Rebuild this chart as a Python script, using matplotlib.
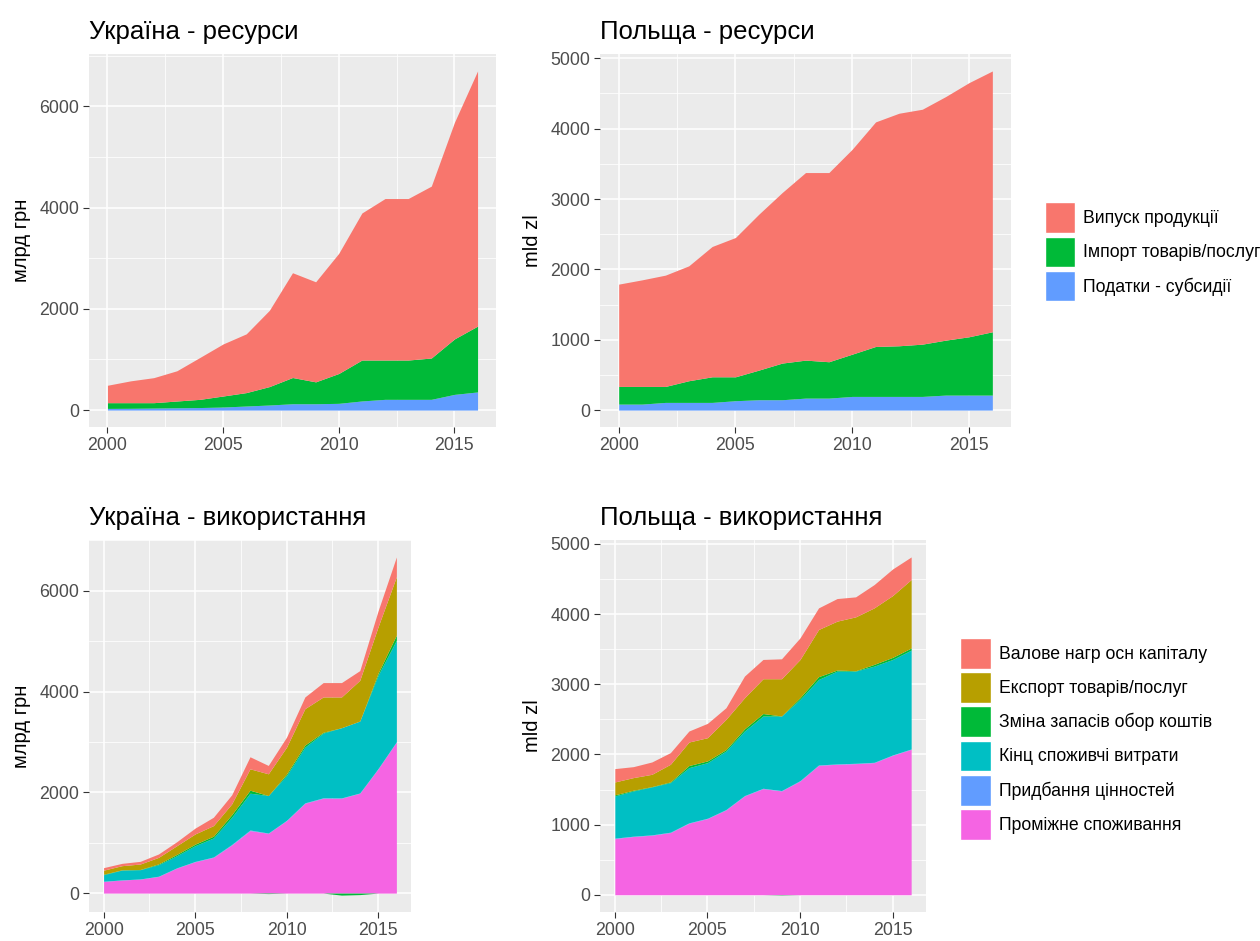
import numpy as np
import matplotlib
matplotlib.use("Agg")
import matplotlib.pyplot as plt
from matplotlib.patches import Patch
from matplotlib.ticker import MultipleLocator

plt.rcParams['font.family'] = ['Liberation Sans', 'DejaVu Sans']

years = list(range(2000, 2017))

# Resources (3 categories)
res_labels = ["Випуск продукції", "Імпорт товарів/послуг", "Податки - субсидії"]
res_colors = ["#F8766D", "#00BA38", "#619CFF"]

ua_output = [344, 431, 494, 597, 828, 1028, 1160, 1506, 2069, 1976, 2373, 2904, 3189, 3189, 3394, 4277, 5038]
ua_import = [113, 111, 106, 134, 162, 218, 265, 364, 518, 432, 590, 808, 776, 776, 816, 1095, 1300]
ua_taxes = [33, 35, 40, 45, 50, 60, 80, 100, 125, 125, 133, 180, 212, 212, 212, 310, 358]

pl_output = [1454, 1515, 1582, 1633, 1852, 1980, 2216, 2424, 2666, 2689, 2913, 3192, 3305, 3339, 3462, 3612, 3707]
pl_import = [251, 251, 227, 308, 364, 340, 421, 521, 540, 517, 601, 710, 720, 743, 781, 829, 900]
pl_taxes = [85, 85, 109, 109, 109, 133, 147, 147, 170, 170, 194, 194, 194, 194, 213, 213, 213]

# Uses (6 categories)
use_labels = ["Валове нагр осн капіталу", "Експорт товарів/послуг", "Зміна запасів обор коштів",
              "Кінц споживчі витрати", "Придбання цінностей", "Проміжне споживання"]
use_colors = ["#F8766D", "#B79F00", "#00BA38", "#00BFC4", "#619CFF", "#F564E3"]

ua_gfcf = [50, 46, 53, 67, 79, 116, 166, 180, 239, 166, 199, 232, 285, 285, 192, 316, 391]
ua_export = [80, 82, 108, 130, 173, 203, 210, 215, 424, 431, 533, 723, 701, 610, 809, 921, 1160]
ua_inventory = [10, 5, 5, 15, 25, 30, 35, 50, 60, -10, 30, 40, 15, -40, -30, 40, 100]
ua_final = [130, 195, 183, 229, 241, 312, 377, 540, 730, 744, 889, 1106, 1285, 1393, 1427, 1852, 2016]
ua_valuables = [3, 3, 3, 4, 5, 6, 8, 10, 12, 5, 6, 8, 8, 6, 5, 5, 6]
ua_intermediate = [232, 259, 278, 331, 497, 623, 709, 955, 1240, 1187, 1439, 1783, 1883, 1883, 1982, 2466, 2997]

pl_gfcf = [190, 156, 176, 166, 157, 204, 166, 309, 275, 284, 308, 308, 322, 285, 332, 379, 322]
pl_export = [184, 180, 175, 251, 335, 331, 431, 444, 496, 531, 544, 672, 697, 768, 805, 881, 976]
pl_inventory = [15, 10, 5, 10, 30, 25, 20, 30, 35, -5, 25, 40, 15, 5, 25, 30, 30]
pl_final = [602, 645, 683, 707, 787, 792, 834, 920, 1030, 1063, 1158, 1219, 1323, 1314, 1371, 1361, 1409]
pl_valuables = [5] * 17
pl_intermediate = [802, 830, 849, 887, 1020, 1086, 1210, 1409, 1513, 1480, 1622, 1845, 1860, 1869, 1883, 1988, 2073]

BG = "#EBEBEB"
TICK = "#4D4D4D"


def stack_areas(ax, x, series_bottom_first, colors):
    x = np.asarray(x, float)
    pos = np.zeros(len(x))
    neg = np.zeros(len(x))
    for vals, col in zip(series_bottom_first, colors):
        v = np.asarray(vals, float)
        vp = np.where(v > 0, v, 0)
        vn = np.where(v < 0, v, 0)
        if vp.any():
            ax.fill_between(x, pos, pos + vp, color=col, lw=0, zorder=3)
        if vn.any():
            ax.fill_between(x, neg, neg + vn, color=col, lw=0, zorder=3)
        pos = pos + vp
        neg = neg + vn
    return pos.max(), neg.min()


def style(ax, title, ylabel, ymax, ymin, major, xlim=(1999.2, 2016.8)):
    ax.set_facecolor(BG)
    for s in ax.spines.values():
        s.set_visible(False)
    rng = ymax - min(ymin, 0)
    ax.set_ylim(min(ymin, 0) - 0.05 * rng, ymax + 0.05 * rng)
    ax.set_xlim(*xlim)
    ax.xaxis.set_major_locator(MultipleLocator(5))
    ax.xaxis.set_minor_locator(MultipleLocator(2.5))
    ax.yaxis.set_major_locator(MultipleLocator(major))
    ax.yaxis.set_minor_locator(MultipleLocator(major / 2))
    ax.grid(which='major', color='white', lw=1.1, zorder=1)
    ax.grid(which='minor', color='white', lw=0.55, zorder=1)
    ax.tick_params(which='major', direction='out', length=4, width=0.8, color="#333333",
                   labelsize=12.8, labelcolor=TICK, pad=3)
    ax.tick_params(which='minor', length=0)
    ax.set_axisbelow(True)
    ax.set_title(title, loc='left', fontsize=18.5, pad=11, color='black')
    ax.set_ylabel(ylabel, fontsize=14.5, color='black', labelpad=6)


fig = plt.figure(figsize=(12.6, 9.41), dpi=100)
fig.patch.set_facecolor('white')

ax1 = fig.add_axes([0.0706, 0.5462, 0.3231, 0.3964])
ax2 = fig.add_axes([0.4762, 0.5462, 0.3262, 0.3964])
ax3 = fig.add_axes([0.0706, 0.0308, 0.2556, 0.3953])
ax4 = fig.add_axes([0.4762, 0.0308, 0.2587, 0.3953])

m, n = stack_areas(ax1, years, [ua_taxes, ua_import, ua_output], res_colors[::-1])
style(ax1, "Україна - ресурси", "млрд грн", m, n, 2000)

m, n = stack_areas(ax2, years, [pl_taxes, pl_import, pl_output], res_colors[::-1])
style(ax2, "Польща - ресурси", "mld zl", m, n, 1000)

m, n = stack_areas(ax3, years, [ua_intermediate, ua_valuables, ua_final, ua_inventory, ua_export, ua_gfcf],
                   use_colors[::-1])
style(ax3, "Україна - використання", "млрд грн", m, n, 2000)

m, n = stack_areas(ax4, years, [pl_intermediate, pl_valuables, pl_final, pl_inventory, pl_export, pl_gfcf],
                   use_colors[::-1])
style(ax4, "Польща - використання", "mld zl", m, n, 1000)

leg_kw = dict(loc='upper left', frameon=False, fontsize=12.7, handlelength=1.75, handleheight=2.3,
              handletextpad=0.45, labelspacing=0.2, borderpad=0, borderaxespad=0)

res_handles = [Patch(facecolor=c, edgecolor='white', lw=1) for c in res_colors]
fig.legend(res_handles, res_labels, bbox_to_anchor=(0.829, 0.785), **leg_kw)

use_handles = [Patch(facecolor=c, edgecolor='white', lw=1) for c in use_colors]
fig.legend(use_handles, use_labels, bbox_to_anchor=(0.762, 0.322), **leg_kw)

fig.savefig("out.png", dpi=100)
